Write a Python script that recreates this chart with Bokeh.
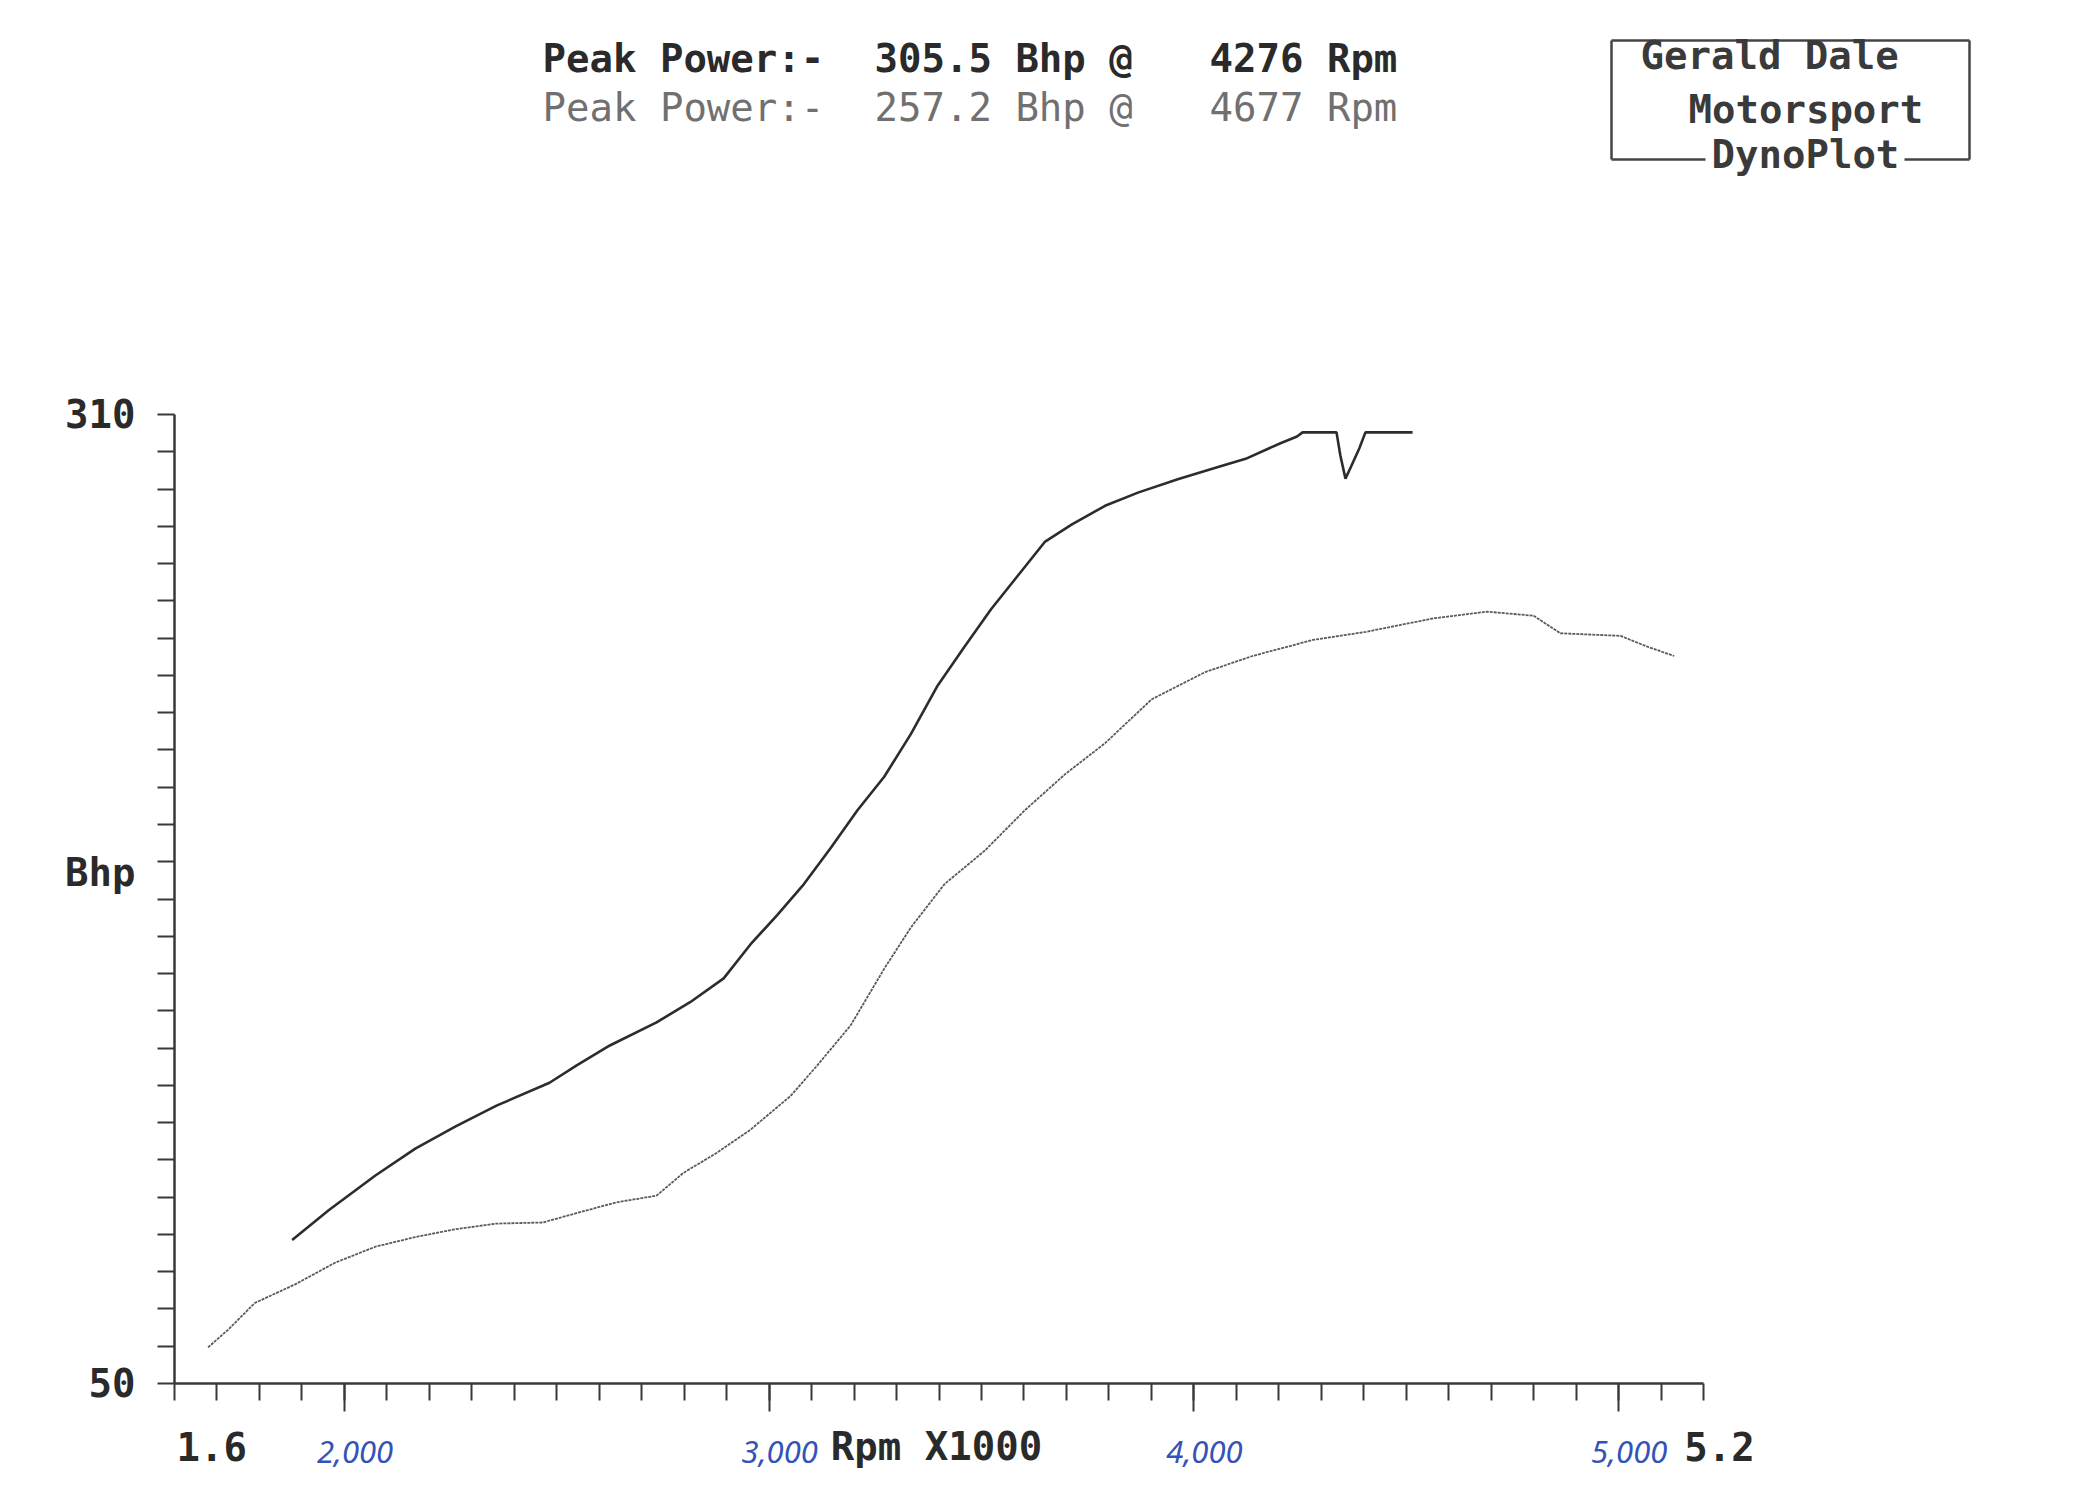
from bokeh.plotting import figure
from bokeh.models import Range1d, FixedTicker, Label
from bokeh.layouts import column
from bokeh.embed import file_html
from bokeh.resources import INLINE

# ---------------- data ----------------
rpm_upper = [1877, 1963, 2073, 2167, 2262, 2357, 2483, 2546, 2625, 2735, 2814, 2893,
             2956, 3019, 3082, 3145, 3208, 3271, 3334, 3397, 3460, 3523, 3586, 3649,
             3713, 3791, 3870, 3964, 4059, 4122, 4204, 4243, 4256, 4336, 4345, 4357,
             4370, 4390, 4404, 4515]
bhp_upper = [88.5, 96.5, 105.8, 113.0, 119.0, 124.5, 130.7, 135.3, 140.7, 146.9, 152.3, 158.7,
             167.8, 175.7, 184.0, 193.7, 203.8, 212.8, 224.3, 237.3, 247.7, 257.8, 266.8, 275.8,
             280.5, 285.5, 289.1, 292.7, 296.0, 298.1, 302.3, 304.1, 305.2, 305.2, 299.0, 292.8,
             296.0, 301.0, 305.2, 305.2]

rpm_lower = [1679, 1726, 1789, 1884, 1978, 2073, 2167, 2262, 2357, 2467, 2546, 2640,
             2735, 2798, 2877, 2956, 3050, 3113, 3192, 3271, 3334, 3413, 3508, 3602,
             3697, 3791, 3901, 4027, 4138, 4280, 4406, 4564, 4690, 4800, 4863, 5005,
             5068, 5131]
bhp_lower = [59.7, 64.4, 71.6, 76.6, 82.4, 86.7, 89.3, 91.4, 92.9, 93.2, 95.7, 98.6,
             100.4, 106.5, 111.9, 118.1, 127.1, 135.3, 146.1, 161.3, 172.4, 184.0, 193.0, 203.8,
             213.5, 221.8, 233.6, 240.9, 245.2, 249.5, 251.7, 255.3, 257.1, 256.0, 251.3, 250.6,
             247.7, 245.2]

x_min, x_max = 1600, 5200
y_min, y_max = 50, 310
x_major_ticks = [2000, 3000, 4000, 5000]
x_major_labels = ["2,000", "3,000", "4,000", "5,000"]
x_minor_ticks = list(range(1600, 5201, 100))
y_minor_ticks = list(range(50, 311, 10))
y_label_ticks = [50, 187, 310]
y_label_texts = ["50", "Bhp", "310"]
x_end_labels = ["1.6", "Rpm X1000", "5.2"]

header_1 = ["Peak Power:-", "305.5 Bhp @", "4276 Rpm"]
header_2 = ["Peak Power:-", "257.2 Bhp @", "4677 Rpm"]
logo_lines = ["Gerald Dale", "Motorsport", "DynoPlot"]

MONO = "DejaVu Sans Mono"
INK = "#2a2a2a"
AX = "#383838"

# layout geometry (page pixels) of the printed axes
AX_L, AX_R = 174, 1703      # x of 1.6 and 5.2
AX_T, AX_B = 414, 1383      # y of 310 and 50
PX_RPM = (AX_R - AX_L) / (x_max - x_min)
PX_BHP = (AX_B - AX_T) / (y_max - y_min)
W = 2084

def dx(X):
    return x_min + (X - AX_L) / PX_RPM

def dy(Y):
    return y_min + (AX_B - Y) / PX_BHP

MAIN_H = AX_B + 30
FOOT_H = 64

# ---------------- main plot (frame extends up and right for the header) ----------------
p = figure(width=W, height=MAIN_H, x_range=Range1d(x_min, dx(W)), y_range=Range1d(y_min, dy(0)),
           output_backend="svg", toolbar_location=None,
           min_border_left=AX_L, min_border_right=0, min_border_top=0, min_border_bottom=30)
p.grid.visible = False
p.outline_line_color = None
p.background_fill_color = "white"
p.border_fill_color = "white"

p.line(rpm_lower, bhp_lower, line_color="#5a5a5a", line_width=1.8, line_dash="3 1")
p.line(rpm_upper, bhp_upper, line_color="#2c2c2c", line_width=2.6)

xa = p.xaxis[0]
xa.bounds = (x_min, x_max)
xa.ticker = FixedTicker(ticks=x_major_ticks, minor_ticks=x_minor_ticks)
xa.major_label_overrides = {t: "" for t in x_major_ticks}
xa.major_label_standoff = 0
xa.major_label_text_font_size = "10px"
xa.axis_line_color = AX
xa.axis_line_width = 2.5
xa.major_tick_line_color = AX
xa.major_tick_line_width = 2
xa.major_tick_out = 28
xa.major_tick_in = 0
xa.minor_tick_line_color = AX
xa.minor_tick_line_width = 2
xa.minor_tick_out = 17
xa.minor_tick_in = 0

ya = p.yaxis[0]
ya.bounds = (y_min, y_max)
ya.ticker = FixedTicker(ticks=y_label_ticks, minor_ticks=y_minor_ticks)
ya.major_label_overrides = {t: s for t, s in zip(y_label_ticks, y_label_texts)}
ya.major_label_text_font = MONO
ya.major_label_text_font_size = "39px"
ya.major_label_text_font_style = "bold"
ya.major_label_text_color = INK
ya.major_label_standoff = 22
ya.axis_line_color = AX
ya.axis_line_width = 2.5
ya.major_tick_out = 0
ya.major_tick_in = 0
ya.major_tick_line_color = None
ya.minor_tick_line_color = AX
ya.minor_tick_line_width = 2
ya.minor_tick_out = 17
ya.minor_tick_in = 0

# header
hx = [542, 874, 1209]
for t, X in zip(header_1, hx):
    p.add_layout(Label(x=dx(X), y=dy(58), text=t, text_font=MONO, text_font_size="39px",
                       text_font_style="bold", text_color=INK, text_baseline="middle", text_align="left"))
for t, X in zip(header_2, hx):
    p.add_layout(Label(x=dx(X), y=dy(107), text=t, text_font=MONO, text_font_size="39px",
                       text_color="#707070", text_baseline="middle", text_align="left"))

# logo box
bx = [[1611, 1969], [1611, 1611], [1969, 1969], [1611, 1705], [1904, 1969]]
by = [[40, 40], [40, 159], [40, 159], [159, 159], [159, 159]]
p.multi_line(xs=[[dx(v) for v in s] for s in bx], ys=[[dy(v) for v in s] for s in by],
             line_color="#444444", line_width=2.5)
for t, X, Y in zip(logo_lines, [1640, 1688, 1711], [55, 109, 154]):
    p.add_layout(Label(x=dx(X), y=dy(Y), text=t, text_font=MONO, text_font_size="39px",
                       text_font_style="bold", text_color="#3a3a3a", text_baseline="middle",
                       text_align="left"))

# ---------------- footer: labels under the rpm axis ----------------
foot_top = MAIN_H
f = figure(width=W, height=FOOT_H, x_range=p.x_range, y_range=Range1d(foot_top + FOOT_H, foot_top),
           output_backend="svg", toolbar_location=None, x_axis_type=None, y_axis_type=None,
           min_border_left=AX_L, min_border_right=0, min_border_top=0, min_border_bottom=0)
f.grid.visible = False
f.outline_line_color = None
f.background_fill_color = "white"
f.border_fill_color = "white"

for t, l in zip(x_major_ticks, x_major_labels):
    f.add_layout(Label(x=t + 25, y=1451, text=l, text_font="Noto Sans", text_font_style="italic",
                       text_font_size="31px", text_color="#3353b8", text_baseline="middle",
                       text_align="center"))
lab_kw = dict(text_font=MONO, text_font_size="39px", text_font_style="bold",
              text_color=INK, text_baseline="middle")
f.add_layout(Label(x=dx(176), y=1446, text=x_end_labels[0], text_align="left", **lab_kw))
f.add_layout(Label(x=dx(936), y=1446, text=x_end_labels[1], text_align="center", **lab_kw))
f.add_layout(Label(x=dx(1719), y=1446, text=x_end_labels[2], text_align="center", **lab_kw))

layout = column(p, f, spacing=0)
open("out.html", "w").write(file_html(layout, INLINE))
